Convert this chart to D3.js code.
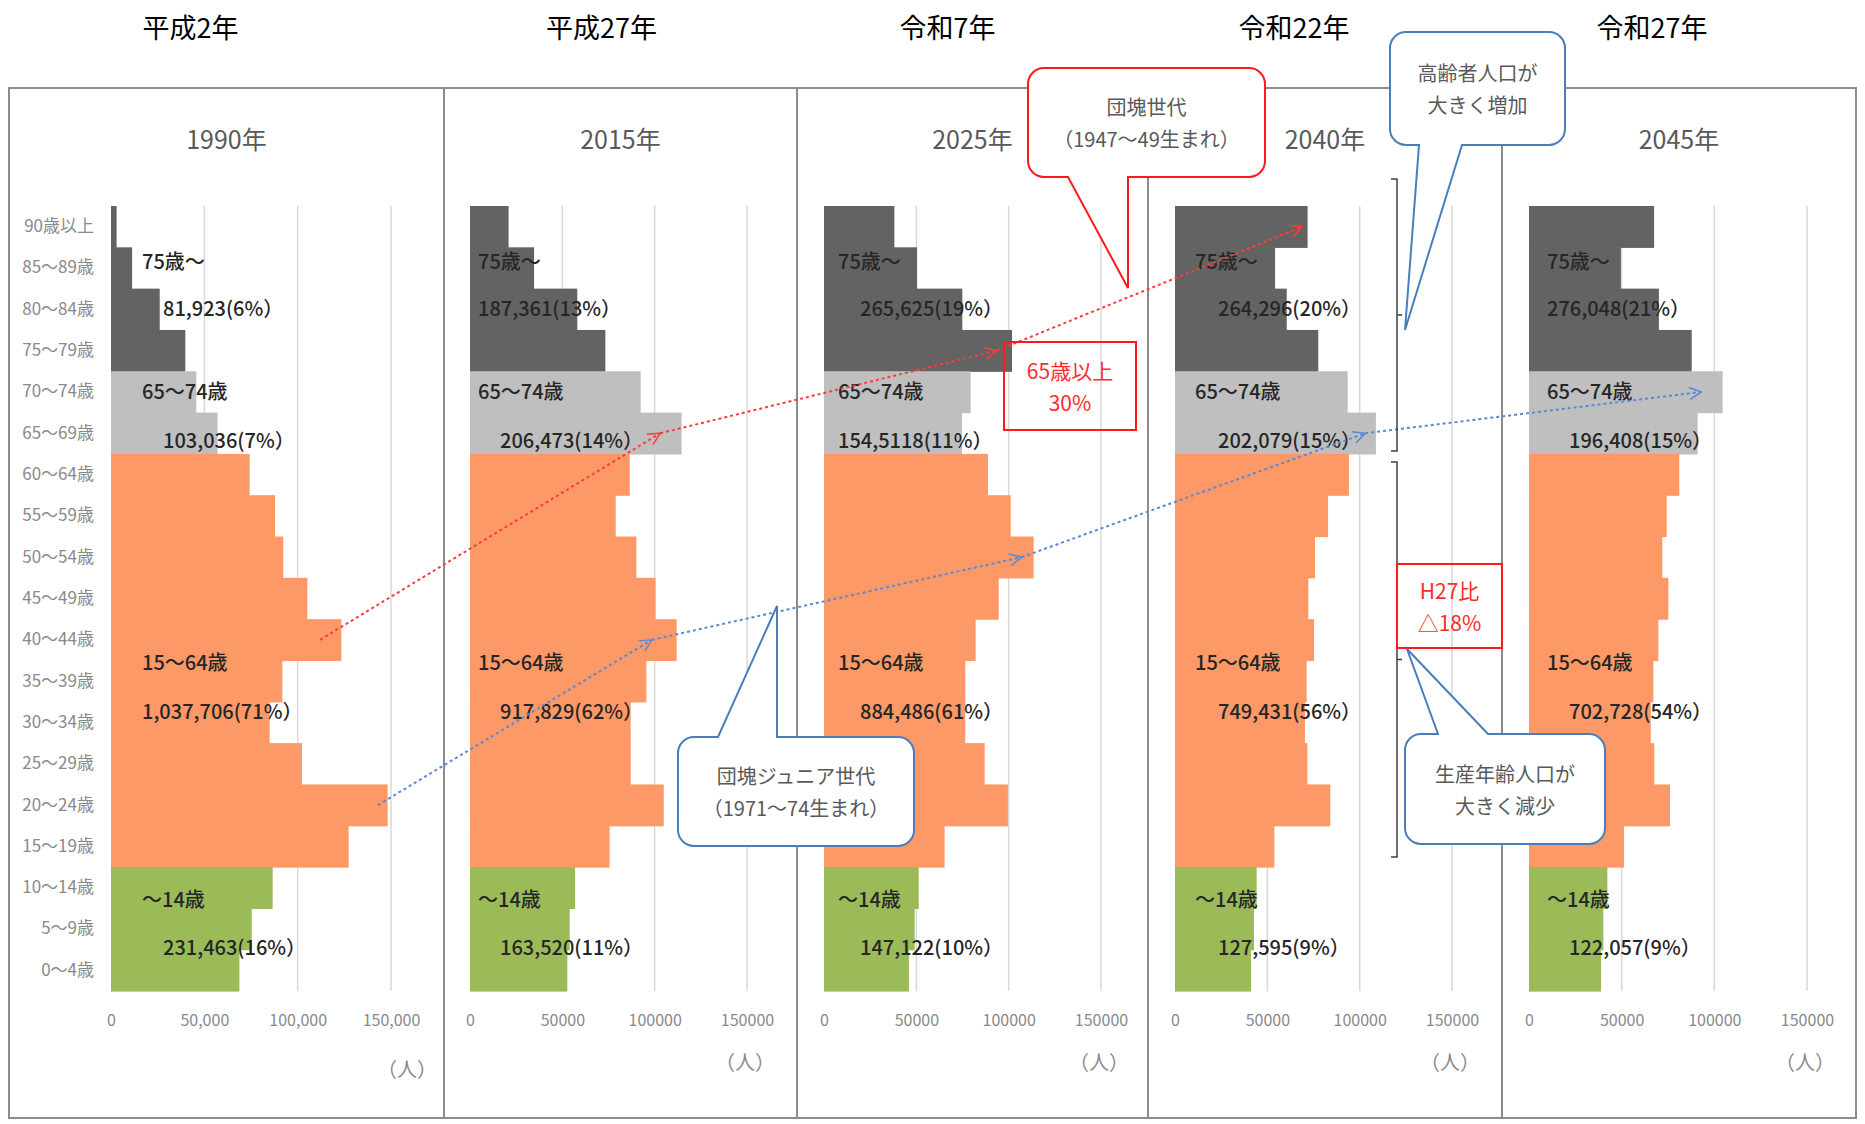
<!DOCTYPE html>
<html lang="ja">
<head>
<meta charset="utf-8">
<script src="https://cdn.jsdelivr.net/npm/d3@7"></script>
<style>
  body { margin: 0; background: #fff; }
  svg { display: block; font-family: "Noto Sans CJK JP", "Noto Sans", sans-serif; }
</style>
</head>
<body>
<div class="svg-container"></div>
<script>
// age bands, top (oldest) to bottom
const ageGroups = ["90歳以上", "85～89歳", "80～84歳", "75～79歳", "70～74歳", "65～69歳",
  "60～64歳", "55～59歳", "50～54歳", "45～49歳", "40～44歳", "35～39歳", "30～34歳",
  "25～29歳", "20～24歳", "15～19歳", "10～14歳", "5～9歳", "0～4歳"];

// which broad group each band belongs to
const bandGroup = ["75", "75", "75", "75", "6574", "6574",
  "1564", "1564", "1564", "1564", "1564", "1564", "1564", "1564", "1564", "1564",
  "014", "014", "014"];

const years = ["1990年", "2015年", "2025年", "2040年", "2045年"];
const eras = ["平成2年", "平成27年", "令和7年", "令和22年", "令和27年"];

// population per band
const pop1990 = [3000, 11300, 26100, 39800, 45700, 57100, 74300, 87900, 92300, 105200,
  123400, 91800, 85000, 102300, 148200, 127300, 86600, 75400, 68800];
const pop2015 = [20900, 34700, 58100, 73300, 92400, 114600, 86500, 78900, 90100, 100500,
  111900, 95500, 87000, 87000, 104900, 75600, 56900, 54000, 52700];
const pop2025 = [38100, 50400, 74900, 101800, 79400, 74700, 88800, 101100, 113500, 94600,
  82100, 76500, 76500, 87000, 99600, 65300, 51300, 49100, 46000];
const pop2040 = [71800, 54200, 60500, 77600, 93500, 108800, 94200, 82900, 75800, 72200,
  75300, 71300, 70400, 71700, 84100, 53800, 44200, 42800, 41200];
const pop2045 = [67500, 49600, 70100, 87800, 104500, 91000, 81100, 74300, 71900, 75200,
  69800, 67100, 65700, 67600, 76100, 51300, 42300, 40100, 38900];
const pops = [pop1990, pop2015, pop2025, pop2040, pop2045];

// group labels
const groupNames = ["75歳～", "65～74歳", "15～64歳", "～14歳"];
const totals1990 = ["81,923(6%）", "103,036(7%）", "1,037,706(71%）", "231,463(16%）"];
const totals2015 = ["187,361(13%）", "206,473(14%）", "917,829(62%）", "163,520(11%）"];
const totals2025 = ["265,625(19%）", "154,5118(11%）", "884,486(61%）", "147,122(10%）"];
const totals2040 = ["264,296(20%）", "202,079(15%）", "749,431(56%）", "127,595(9%）"];
const totals2045 = ["276,048(21%）", "196,408(15%）", "702,728(54%）", "122,057(9%）"];
const totals = [totals1990, totals2015, totals2025, totals2040, totals2045];

const tickValues = [0, 50000, 100000, 150000];

// cohorts followed across the panels: [year, band, value where the arrow points]
const cohortBoomers = [["1990年", "40～44歳", 112000], ["2015年", "65～69歳", 103000],
  ["2025年", "75～79歳", 93500], ["2040年", "90歳以上", 69000]];
const cohortJuniors = [["1990年", "20～24歳", 143000], ["2015年", "40～44歳", 98500],
  ["2025年", "50～54歳", 107000], ["2040年", "65～69歳", 103000], ["2045年", "70～74歳", 93000]];

// layout
const width = 1865, height = 1124;
const panelEdges = [9, 444, 797, 1148, 1502, 1856];
const plotZero = [111, 470, 824, 1175, 1529];
const plotSpan = [280, 277, 277, 277, 278];   // px for 150,000
const frameTop = 88, frameBottom = 1118;
const bandTop = 206, bandBottom = 991;
const eraOffset = [-36, -19, -25, -31, -27];

const colours = { "75": "#636363", "6574": "#bfbfbf", "1564": "#fd9966", "014": "#9bbb59" };

// label placement: band + pixel shift
const labelRows = [
  { nameAge: "85～89歳", nameDy: -7, valAge: "80～84歳", valDy: -2 },
  { nameAge: "70～74歳", nameDy: -1, valAge: "65～69歳", valDy: 6 },
  { nameAge: "40～44歳", nameDy: 22, valAge: "35～39歳", valDy: 29 },
  { nameAge: "10～14歳", nameDy: 11, valAge: "5～9歳", valDy: 17 }
];
const nameIndent = [31, 8, 14, 20, 18];
const valIndent = [[52, 52, 31, 52], [8, 30, 30, 30], [36, 14, 36, 36], [43, 43, 43, 43], [18, 40, 40, 40]];

const svg = d3.select('.svg-container')
  .append('svg')
  .attr('width', width)
  .attr('height', height);

const defs = svg.append('defs');
[["arrow-red", "#ff3b3b"], ["arrow-blue", "#5b87d6"]].forEach(([id, c]) => {
  defs.append('marker')
    .attr('id', id)
    .attr('viewBox', '0 0 14 14')
    .attr('refX', 13).attr('refY', 7)
    .attr('markerWidth', 14).attr('markerHeight', 14)
    .attr('markerUnits', 'userSpaceOnUse')
    .attr('orient', 'auto')
    .append('path')
    .attr('d', 'M1,1 L13,7 L1,13')
    .attr('fill', 'none')
    .attr('stroke', c)
    .attr('stroke-width', 1.5);
});

const y = d3.scaleBand().domain(ageGroups).range([bandTop, bandBottom]).padding(0);
const xs = years.map((yr, i) => d3.scaleLinear()
  .domain([0, 150000])
  .range([plotZero[i], plotZero[i] + plotSpan[i]]));

// frame
svg.append('rect')
  .attr('x', panelEdges[0]).attr('y', frameTop)
  .attr('width', panelEdges[5] - panelEdges[0]).attr('height', frameBottom - frameTop)
  .attr('fill', 'none').attr('stroke', '#8c8c8c').attr('stroke-width', 2);
svg.selectAll('.divider')
  .data(panelEdges.slice(1, 5))
  .enter().append('line')
  .attr('x1', d => d).attr('x2', d => d)
  .attr('y1', frameTop).attr('y2', frameBottom)
  .attr('stroke', '#8c8c8c').attr('stroke-width', 2);

// era titles
svg.selectAll('.era')
  .data(eras)
  .enter().append('text')
  .attr('x', (d, i) => (panelEdges[i] + panelEdges[i + 1]) / 2 + eraOffset[i])
  .attr('y', 26)
  .attr('text-anchor', 'middle')
  .attr('dominant-baseline', 'central')
  .style('font-size', '27px')
  .style('font-weight', 400)
  .style('fill', '#000')
  .text(d => d);

years.forEach((yr, i) => {
  const x = xs[i];
  const g = svg.append('g');

  // subtitle
  g.append('text')
    .attr('x', (panelEdges[i] + panelEdges[i + 1]) / 2)
    .attr('y', 138)
    .attr('text-anchor', 'middle')
    .attr('dominant-baseline', 'central')
    .style('font-size', '25px')
    .style('fill', '#595959')
    .text(yr);

  // gridlines
  g.selectAll('.grid')
    .data(tickValues.slice(1))
    .enter().append('line')
    .attr('x1', d => x(d)).attr('x2', d => x(d))
    .attr('y1', bandTop).attr('y2', bandBottom)
    .attr('stroke', '#d9d9d9').attr('stroke-width', 1.5);

  // bars
  const rows = ageGroups.map((a, j) => ({ age: a, v: pops[i][j], grp: bandGroup[j] }));
  g.selectAll('.bar')
    .data(rows)
    .enter().append('rect')
    .attr('x', x(0))
    .attr('y', d => y(d.age))
    .attr('width', d => x(d.v) - x(0))
    .attr('height', y.bandwidth() + 0.6)
    .style('fill', d => colours[d.grp]);

  // x axis
  const ax = g.append('g')
    .attr('transform', `translate(0,${bandBottom})`)
    .call(d3.axisBottom(x)
      .tickValues(tickValues)
      .tickSize(0)
      .tickPadding(24)
      .tickFormat(i === 0 ? d3.format(',') : d3.format('d')));
  ax.select('.domain').remove();
  ax.attr('font-family', null);
  ax.selectAll('text').style('font-size', '16px').style('fill', '#8a8a8a');

  // unit
  g.append('text')
    .attr('x', x(150000) + (i === 0 ? 16 : -2))
    .attr('y', i === 0 ? 1068 : 1061)
    .attr('text-anchor', 'middle')
    .attr('dominant-baseline', 'central')
    .style('font-size', '20px')
    .style('fill', '#8a8a8a')
    .text('（人）');

  // group labels
  labelRows.forEach((r, k) => {
    g.append('text')
      .attr('x', x(0) + nameIndent[i])
      .attr('y', y(r.nameAge) + y.bandwidth() / 2 + r.nameDy)
      .attr('dominant-baseline', 'central')
      .style('font-size', '20px')
      .style('font-weight', 500)
      .style('fill', '#262626')
      .text(groupNames[k]);
    g.append('text')
      .attr('x', x(0) + valIndent[i][k])
      .attr('y', y(r.valAge) + y.bandwidth() / 2 + r.valDy)
      .attr('dominant-baseline', 'central')
      .style('font-size', '20px')
      .style('font-weight', 500)
      .style('fill', '#262626')
      .text(totals[i][k]);
  });
});

// age axis on the first panel
const ageAxis = svg.append('g')
  .attr('transform', `translate(${plotZero[0]},0)`)
  .call(d3.axisLeft(y).tickSize(0).tickPadding(17));
ageAxis.select('.domain').remove();
ageAxis.attr('font-family', null);
ageAxis.selectAll('text').style('font-size', '17px').style('fill', '#8a8a8a');

// cohort arrows
function cohortPoint(c) {
  const i = years.indexOf(c[0]);
  return [xs[i](c[2]), y(c[1]) + y.bandwidth() / 2];
}
[[cohortBoomers, '#ff3b3b', 'arrow-red'], [cohortJuniors, '#5b87d6', 'arrow-blue']].forEach(([c, col, mk]) => {
  const pts = c.map(cohortPoint);
  for (let k = 1; k < pts.length; k++) {
    svg.append('line')
      .attr('x1', pts[k - 1][0]).attr('y1', pts[k - 1][1])
      .attr('x2', pts[k][0]).attr('y2', pts[k][1])
      .attr('stroke', col)
      .attr('stroke-width', 2)
      .attr('stroke-dasharray', '3,3')
      .attr('marker-end', `url(#${mk})`);
  }
});

// brackets next to the 2040 panel
function bracket(top, bottom) {
  const bx = 1397, mid = (top + bottom) / 2;
  svg.append('path')
    .attr('d', `M${bx - 6},${top} H${bx} V${bottom} H${bx - 6} M${bx},${mid} H${bx + 5}`)
    .attr('fill', 'none')
    .attr('stroke', '#404040')
    .attr('stroke-width', 1.5);
}
bracket(y('90歳以上') - 27, y('65～69歳') + y.bandwidth() - 3);
bracket(y('60～64歳') + 8, y('15～19歳') + y.bandwidth() - 10);

// plain red boxes
function redBox(x0, y0, x1, y1, lines) {
  svg.append('rect')
    .attr('x', x0).attr('y', y0)
    .attr('width', x1 - x0).attr('height', y1 - y0)
    .attr('fill', 'none').attr('stroke', '#ff1a1a').attr('stroke-width', 2);
  lines.forEach((t, k) => {
    svg.append('text')
      .attr('x', (x0 + x1) / 2)
      .attr('y', y0 + (y1 - y0) / 2 + (k - (lines.length - 1) / 2) * 32)
      .attr('text-anchor', 'middle')
      .attr('dominant-baseline', 'central')
      .style('font-size', '21px')
      .style('fill', '#ff2b2b')
      .text(t);
  });
}
redBox(1004, 342, 1136, 430, ['65歳以上', '30%']);
redBox(1397, 564, 1502, 648, ['H27比', '△18%']);

// callouts with a pointer
function callout(x0, y0, x1, y1, tail, col, lines) {
  const r = 16;
  let d;
  if (tail.side === 'bottom') {
    d = `M${x0 + r},${y0} H${x1 - r} A${r},${r} 0 0 1 ${x1},${y0 + r} V${y1 - r} A${r},${r} 0 0 1 ${x1 - r},${y1}`
      + ` H${tail.b} L${tail.tx},${tail.ty} L${tail.a},${y1} H${x0 + r} A${r},${r} 0 0 1 ${x0},${y1 - r}`
      + ` V${y0 + r} A${r},${r} 0 0 1 ${x0 + r},${y0} Z`;
  } else {
    d = `M${x0 + r},${y0} H${tail.a} L${tail.tx},${tail.ty} L${tail.b},${y0} H${x1 - r} A${r},${r} 0 0 1 ${x1},${y0 + r}`
      + ` V${y1 - r} A${r},${r} 0 0 1 ${x1 - r},${y1} H${x0 + r} A${r},${r} 0 0 1 ${x0},${y1 - r}`
      + ` V${y0 + r} A${r},${r} 0 0 1 ${x0 + r},${y0} Z`;
  }
  svg.append('path')
    .attr('d', d)
    .attr('fill', '#fff')
    .attr('stroke', col)
    .attr('stroke-width', 2);
  lines.forEach((t, k) => {
    svg.append('text')
      .attr('x', (x0 + x1) / 2)
      .attr('y', y0 + (y1 - y0) / 2 + (k - (lines.length - 1) / 2) * 32)
      .attr('text-anchor', 'middle')
      .attr('dominant-baseline', 'central')
      .style('font-size', '20px')
      .style('fill', '#595959')
      .text(t);
  });
}
callout(1028, 68, 1265, 177, { side: 'bottom', a: 1068, b: 1128, tx: 1128, ty: 288 }, '#ff1a1a',
  ['団塊世代', '（1947～49生まれ）']);
callout(1390, 32, 1565, 145, { side: 'bottom', a: 1419, b: 1462, tx: 1405, ty: 330 }, '#4a7ebb',
  ['高齢者人口が', '大きく増加']);
callout(1405, 734, 1605, 844, { side: 'top', a: 1438, b: 1488, tx: 1407, ty: 649 }, '#4a7ebb',
  ['生産年齢人口が', '大きく減少']);
callout(678, 737, 914, 846, { side: 'top', a: 718, b: 777, tx: 777, ty: 606 }, '#4a7ebb',
  ['団塊ジュニア世代', '（1971～74生まれ）']);
</script>
</body>
</html>
